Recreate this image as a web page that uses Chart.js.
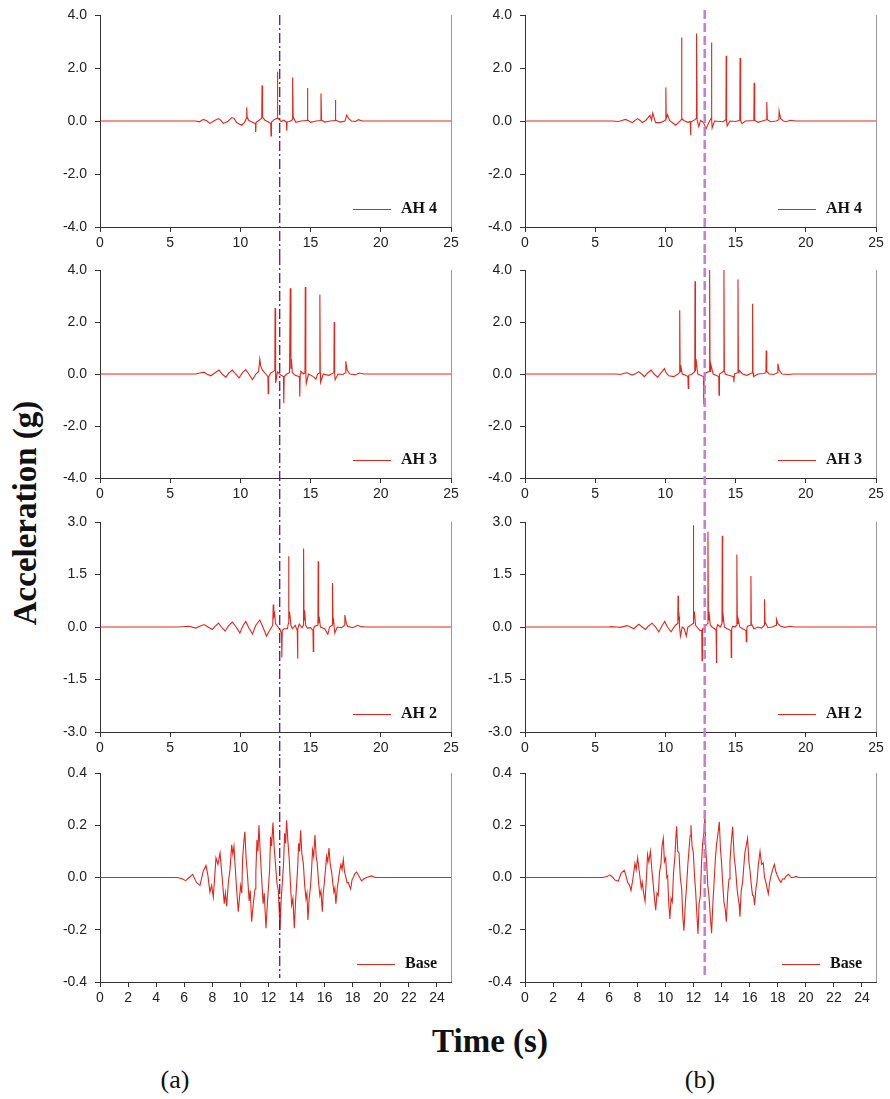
<!DOCTYPE html>
<html lang="en">
<head>
<meta charset="utf-8">
<title>Acceleration time histories</title>
<script src="https://cdn.jsdelivr.net/npm/chart.js@4.4.1/dist/chart.umd.min.js"></script>
<style>
  html, body { margin: 0; padding: 0; background: #fff; }
  .figure { position: relative; width: 890px; height: 1099px; overflow: hidden; }
  .figure canvas { position: absolute; }
  .ylabel {
    position: absolute; left: 25px; top: 513px;
    transform: translate(-50%, -50%) rotate(-90deg);
    font: bold 33px "Liberation Serif", "Times New Roman", serif;
    line-height: 1; white-space: nowrap; color: #111;
  }
  .xlabel {
    position: absolute; left: 490px; top: 1025px; transform: translateX(-50%);
    font: bold 33px "Liberation Serif", "Times New Roman", serif;
    line-height: 1; white-space: nowrap; color: #111;
  }
  .cap {
    position: absolute; top: 1067px; transform: translateX(-50%);
    font: 26px "Liberation Serif", "Times New Roman", serif;
    line-height: 1; color: #111;
  }
</style>
</head>
<body>
<div class="figure" id="figure">
  <div class="ylabel">Acceleration (g)</div>
  <div class="xlabel">Time (s)</div>
  <div class="cap" style="left:175px">(a)</div>
  <div class="cap" style="left:700px">(b)</div>
</div>

<script>
/* ============ Data: [time (s), acceleration (g)] ============ */
var ah4A = [[0,0],[3.5,0],[6.8,0],[7.1,-0.03],[7.36,0.06],[7.6,0.01],[7.83,-0.09],[8.1,0],[8.43,0.09],[8.6,0.03],
  [8.78,-0.09],[9.1,-0.02],[9.38,0.13],[9.55,0.1],[9.73,-0.06],[10.09,-0.16],[10.3,-0.05],[10.43,0.1],[10.45,0.52],[10.48,0.15],
  [10.6,0.02],[10.9,-0.06],[11.07,-0.1],[11.09,-0.41],[11.12,-0.05],[11.3,0.02],[11.52,0.1],[11.54,1.34],[11.58,0.15],[11.75,0.03],
  [12.0,-0.04],[12.16,-0.1],[12.18,-0.56],[12.21,-0.05],[12.4,0.05],[12.61,0.1],[12.63,1.86],[12.67,0.12],[12.9,-0.02],[13.1,0.03],
  [13.28,-0.05],[13.3,-0.37],[13.33,-0.03],[13.5,-0.02],[13.7,0.05],[13.72,1.64],[13.76,0.15],[13.95,-0.05],[14.3,0],[14.75,0.02],
  [14.77,1.25],[14.81,0.05],[15.0,-0.05],[15.4,0],[15.72,0.02],[15.74,1.04],[15.78,0.04],[16.0,-0.04],[16.4,0],[16.74,0.02],
  [16.76,0.79],[16.8,0.03],[17.1,-0.04],[17.45,0],[17.57,0.22],[17.7,0.1],[17.9,0],[18.2,-0.02],[18.4,0.05],[18.7,0],
  [19.5,0],[22,0],[25,0]];

var ah4B = [[0,0],[6.2,0],[6.69,-0.02],[6.95,0.03],[7.16,0.06],[7.4,0],[7.64,-0.06],[8.0,0.09],[8.2,0.02],[8.35,-0.06],
  [8.6,0.02],[8.9,0.21],[9.01,0.03],[9.1,0.3],[9.3,-0.06],[9.65,-0.06],[9.9,0],[10.01,0.05],[10.03,1.26],[10.06,0.1],
  [10.15,0.24],[10.3,0.02],[10.72,-0.16],[10.95,-0.05],[11.12,0.05],[11.15,3.15],[11.18,0.1],[11.3,0.02],[11.6,-0.05],[11.77,-0.02],
  [11.79,-0.54],[11.82,-0.05],[12.1,0.05],[12.2,0.1],[12.22,3.3],[12.26,0.05],[12.38,-0.22],[12.5,0.02],[12.7,-0.05],[12.9,-0.29],
  [13.1,-0.05],[13.26,0.1],[13.28,2.96],[13.31,0.05],[13.33,-0.26],[13.5,0],[14.1,-0.03],[14.31,0.05],[14.33,2.46],[14.36,0],
  [14.4,-0.19],[14.6,0],[15.0,-0.02],[15.3,0.03],[15.32,2.38],[15.36,0],[15.45,-0.1],[15.7,0],[16.3,0.02],[16.32,1.44],
  [16.36,0.02],[16.6,-0.05],[16.9,0],[17.2,0.05],[17.22,0.72],[17.26,0.05],[17.5,-0.03],[17.9,0],[18.08,0.05],[18.1,0.375],
  [18.2,0.1],[18.4,0],[18.6,-0.03],[18.9,0.03],[19.3,0],[25,0]];

var ah3A = [[0,0],[6.5,0],[6.82,0],[7.1,0.04],[7.41,0.07],[7.6,0],[7.89,-0.07],[8.2,0.05],[8.48,0.15],[8.7,0],
  [8.96,-0.12],[9.2,0.05],[9.43,0.15],[9.65,0],[9.91,-0.15],[10.15,0.05],[10.38,0.17],[10.6,0],[10.86,-0.22],[11.1,0],
  [11.3,0.1],[11.38,0.57],[11.45,0.3],[11.57,0.15],[11.8,0],[11.96,-0.1],[11.98,-0.76],[12.01,-0.1],[12.17,0.04],[12.35,0.1],
  [12.45,0.15],[12.47,2.54],[12.5,0.1],[12.52,-0.35],[12.64,0.08],[12.9,-0.05],[13.07,-0.1],[13.09,-1.12],[13.12,-0.1],[13.3,0],
  [13.5,0.05],[13.55,3.3],[13.6,0.2],[13.64,0.57],[13.7,0.05],[13.9,-0.05],[14.21,-0.1],[14.23,-0.87],[14.26,0],[14.31,0.1],
  [14.5,0],[14.6,0.05],[14.62,3.35],[14.66,0.05],[14.69,-0.37],[14.85,0],[15.2,-0.1],[15.38,-0.2],[15.5,0],[15.64,0.05],
  [15.66,3.05],[15.69,0.05],[15.71,-0.32],[15.9,0],[16.3,-0.05],[16.66,0.05],[16.68,2.0],[16.71,0.05],[16.75,-0.22],[16.95,0],
  [17.3,-0.02],[17.49,0.05],[17.51,0.49],[17.6,0.15],[17.8,0],[18.2,-0.03],[18.47,0.04],[18.8,0],[25,0]];

var ah3B = [[0,0],[6.5,0],[6.8,-0.02],[7.05,0.03],[7.27,0.05],[7.63,-0.04],[7.9,0.02],[8.1,0.09],[8.3,0],[8.5,-0.1],
  [8.75,0.05],[8.98,0.15],[9.2,0],[9.45,-0.12],[9.7,0.05],[9.93,0.21],[10.05,0.05],[10.24,-0.07],[10.59,-0.1],[10.9,0],
  [11.0,0.05],[11.02,2.45],[11.05,0.1],[11.09,0.34],[11.2,0],[11.45,-0.05],[11.6,-0.1],[11.63,-0.56],[11.66,-0.05],[11.9,0],
  [12.09,0.1],[12.11,3.57],[12.14,0.1],[12.18,0.58],[12.3,0],[12.5,-0.05],[12.71,-0.1],[12.73,-1.16],[12.76,-0.1],[12.9,0.05],
  [13.13,0.1],[13.15,4.0],[13.18,0.1],[13.22,0.4],[13.4,0],[13.6,-0.05],[13.8,-0.1],[13.82,-0.82],[13.85,0],[14.0,0.05],
  [14.15,0.1],[14.17,4.0],[14.2,0.1],[14.27,0],[14.5,-0.05],[14.86,-0.1],[14.88,-0.32],[14.92,0],[15.15,0.05],[15.17,3.63],
  [15.2,0.05],[15.24,0.15],[15.5,0],[15.8,-0.05],[16.19,0.05],[16.21,2.7],[16.24,0.05],[16.28,-0.1],[16.6,0],[17.0,0.02],
  [17.16,0.05],[17.18,0.9],[17.22,0.1],[17.4,0],[17.7,-0.02],[17.99,0.05],[18.01,0.4],[18.1,0.15],[18.3,0],[18.77,-0.02],
  [19.1,0],[25,0]];

var ah2A = [[0,0],[5.6,0],[6.35,0.02],[6.82,-0.03],[7.1,0.02],[7.41,0.07],[7.7,0],[8.0,-0.07],[8.2,0.02],[8.44,0.11],
  [8.65,0],[8.91,-0.12],[9.15,0.03],[9.43,0.14],[9.7,0],[9.96,-0.17],[10.2,0.05],[10.38,0.16],[10.6,-0.02],[10.86,-0.2],
  [11.1,0.05],[11.38,0.2],[11.6,0],[11.86,-0.26],[12.05,-0.12],[12.3,0.05],[12.34,0.64],[12.38,0.3],[12.44,0.39],[12.5,0.1],
  [12.64,0.02],[12.85,-0.1],[12.93,-0.2],[12.95,-0.87],[12.98,-0.1],[13.1,-0.05],[13.35,-0.05],[13.41,0.1],[13.43,2.02],[13.46,0.2],
  [13.5,0.44],[13.6,0.05],[13.71,-0.05],[13.9,0.05],[14.05,-0.1],[14.07,-0.91],[14.1,-0.05],[14.19,0.08],[14.4,-0.02],[14.48,0.05],
  [14.5,2.24],[14.53,0.2],[14.57,0.48],[14.65,0.05],[14.78,-0.03],[15.0,-0.02],[15.17,-0.1],[15.19,-0.7],[15.22,-0.05],[15.28,0.02],
  [15.52,0.05],[15.54,1.88],[15.57,0.1],[15.61,0.3],[15.7,0],[16.0,-0.05],[16.23,-0.21],[16.35,0],[16.54,0.05],[16.56,1.26],
  [16.6,0.1],[16.63,0.25],[16.7,-0.1],[16.73,-0.17],[16.9,0],[17.2,-0.02],[17.42,0.05],[17.44,0.34],[17.55,0.1],[17.63,0.02],
  [18.0,-0.02],[18.35,0.05],[18.6,0.01],[18.94,0],[25,0]];

var ah2B = [[0,0],[6.0,0],[6.09,0.01],[6.5,0],[6.8,-0.01],[7.27,0.04],[7.5,0],[7.75,-0.05],[8.1,0.08],[8.35,0],
  [8.58,-0.07],[8.8,0.03],[9.05,0.11],[9.3,0],[9.53,-0.14],[9.75,0.03],[9.95,0.16],[10.15,0],[10.4,-0.14],[10.71,0.05],
  [10.88,0.1],[10.9,0.89],[10.93,0.2],[10.97,0.3],[11.0,0.05],[11.07,-0.26],[11.2,0],[11.35,-0.05],[11.49,-0.26],[11.6,0],
  [11.8,0.05],[11.97,0.1],[11.99,2.91],[12.02,0.2],[12.06,0.44],[12.15,0.05],[12.25,0],[12.45,-0.1],[12.59,-0.1],[12.61,-0.96],
  [12.64,-0.05],[12.73,-0.05],[12.9,0.05],[13.01,0.1],[13.03,2.72],[13.06,0.2],[13.1,0.44],[13.2,0.05],[13.32,0],[13.5,-0.05],
  [13.61,-0.1],[13.63,-1.03],[13.66,-0.05],[13.72,0.07],[13.9,0],[14.03,0.1],[14.05,2.61],[14.08,0.15],[14.12,0.3],[14.2,0],
  [14.4,-0.05],[14.67,-0.1],[14.69,-0.87],[14.72,-0.05],[14.79,0.02],[14.95,0],[15.07,0.05],[15.09,2.07],[15.12,0.1],[15.17,0.25],
  [15.3,0],[15.5,-0.05],[15.74,-0.1],[15.76,-0.42],[15.8,-0.03],[15.85,0.02],[16.07,0.05],[16.09,1.46],[16.12,0.1],[16.16,0.1],
  [16.3,-0.05],[16.6,0],[16.85,-0.03],[17.04,0.05],[17.06,0.79],[17.1,0.1],[17.13,0.12],[17.3,-0.02],[17.6,0],[17.89,0.05],
  [17.91,0.22],[18.0,0.1],[18.18,0.03],[18.5,-0.01],[18.89,0.02],[19.2,0],[25,0]];

var baseA = [[0,0],[5.5,0],[5.85,-0.005],[6.1,-0.012],[6.35,0],[6.6,0.012],[6.88,-0.02],[7.12,-0.03],[7.36,0.025],[7.55,0.046],
  [7.68,0.01],[7.83,-0.056],[7.95,-0.03],[8.07,-0.075],[8.18,0.01],[8.26,0.075],[8.4,0.05],[8.55,0.094],[8.65,0.03],[8.73,-0.019],
  [8.85,-0.1],[8.93,-0.06],[9.02,-0.11],[9.14,-0.02],[9.26,0.031],[9.38,0.125],[9.46,0.09],[9.54,0.12],[9.63,0.04],[9.73,-0.044],
  [9.85,-0.131],[9.93,-0.08],[10.02,-0.031],[10.1,-0.06],[10.16,0.075],[10.25,0.14],[10.32,0.175],[10.4,0.08],[10.51,0.006],[10.62,-0.09],
  [10.7,-0.05],[10.8,-0.169],[10.92,-0.1],[11.04,-0.044],[11.1,0.02],[11.18,0.144],[11.25,0.1],[11.32,0.2],[11.42,0.09],[11.51,0],
  [11.62,-0.1],[11.7,-0.06],[11.82,-0.194],[11.9,-0.12],[11.99,-0.044],[12.08,0.03],[12.15,0.156],[12.22,0.12],[12.32,0.21],[12.4,0.12],
  [12.49,0.056],[12.6,-0.02],[12.7,-0.05],[12.76,-0.12],[12.82,-0.2],[12.9,-0.09],[13.01,0],[13.08,0.06],[13.15,0.169],[13.22,0.13],
  [13.29,0.219],[13.38,0.14],[13.48,0.069],[13.56,-0.02],[13.65,-0.106],[13.74,-0.08],[13.84,-0.194],[13.92,-0.1],[14.0,-0.031],[14.08,0.04],
  [14.15,0.131],[14.22,0.1],[14.29,0.181],[14.38,0.09],[14.48,0.056],[14.58,-0.03],[14.67,-0.081],[14.74,-0.06],[14.81,-0.163],[14.9,-0.08],
  [15.0,-0.031],[15.07,0.03],[15.14,0.106],[15.22,0.08],[15.31,0.163],[15.4,0.08],[15.47,0.056],[15.57,-0.02],[15.66,-0.069],[15.74,-0.05],
  [15.83,-0.131],[15.9,-0.06],[15.98,-0.019],[16.06,0.03],[16.14,0.081],[16.22,0.06],[16.31,0.113],[16.4,0.05],[16.5,0.019],[16.58,-0.02],
  [16.66,-0.056],[16.73,-0.04],[16.8,-0.1],[16.9,-0.04],[16.99,-0.006],[17.08,0.03],[17.16,0.05],[17.24,0.03],[17.33,0.069],[17.42,0.02],
  [17.49,0.006],[17.6,-0.02],[17.68,-0.019],[17.75,-0.03],[17.85,-0.044],[17.95,-0.01],[18.04,0],[18.15,0.015],[18.28,0.021],[18.45,0.005],
  [18.63,-0.013],[18.8,-0.005],[18.99,0],[19.2,0.004],[19.35,0.006],[19.6,0],[25,0]];

var baseB = [[0,0],[5.5,0],[5.85,0.004],[6.05,0.01],[6.25,0],[6.41,-0.01],[6.65,-0.014],[6.84,0.016],[7.07,0.028],[7.2,0.005],
  [7.31,-0.019],[7.45,-0.03],[7.55,-0.05],[7.7,0],[7.83,0.054],[7.92,0.03],[8.02,0.075],[8.1,0.04],[8.19,0],[8.28,-0.04],
  [8.35,-0.019],[8.45,-0.06],[8.55,-0.091],[8.65,0],[8.73,0.088],[8.82,0.06],[8.93,0.1],[9.05,0.02],[9.14,-0.031],[9.22,-0.08],
  [9.31,-0.125],[9.4,-0.06],[9.49,-0.069],[9.58,0.02],[9.68,0.05],[9.76,0.12],[9.85,0.15],[9.93,0.06],[10.02,0.075],[10.1,0],
  [10.16,0.006],[10.24,-0.1],[10.32,-0.159],[10.4,-0.08],[10.49,-0.094],[10.58,0.02],[10.68,0.081],[10.74,0.15],[10.8,0.196],[10.88,0.1],
  [10.97,0.094],[11.06,0],[11.16,-0.044],[11.24,-0.15],[11.32,-0.204],[11.42,-0.1],[11.51,-0.031],[11.6,0.05],[11.68,0.106],[11.76,0.16],
  [11.82,0.2],[11.9,0.12],[11.99,0.094],[12.08,0],[12.15,-0.05],[12.24,-0.14],[12.32,-0.216],[12.4,-0.1],[12.49,-0.069],[12.57,0.05],
  [12.65,0.131],[12.74,0.17],[12.82,0.234],[12.88,0.1],[12.94,0.056],[13.02,-0.03],[13.1,-0.069],[13.2,-0.15],[13.29,-0.213],[13.38,-0.1],
  [13.48,-0.006],[13.57,0.08],[13.65,0.131],[13.75,0.17],[13.84,0.213],[13.92,0.11],[14.0,0.056],[14.08,-0.02],[14.17,-0.094],[14.26,-0.12],
  [14.34,-0.169],[14.44,-0.06],[14.53,-0.006],[14.6,0.06],[14.67,0.119],[14.73,0.16],[14.79,0.194],[14.9,0.08],[15.0,0.031],[15.1,-0.04],
  [15.19,-0.081],[15.25,-0.1],[15.31,-0.15],[15.4,-0.05],[15.5,-0.019],[15.58,0.04],[15.66,0.094],[15.75,0.12],[15.85,0.15],[15.95,0.06],
  [16.04,0.019],[16.12,-0.03],[16.21,-0.069],[16.28,-0.07],[16.35,-0.106],[16.45,-0.04],[16.52,-0.019],[16.62,0.05],[16.74,0.1],[16.85,0.05],
  [16.97,0.056],[17.06,0],[17.16,-0.019],[17.24,-0.04],[17.33,-0.0625],[17.42,-0.02],[17.52,0.006],[17.64,0.03],[17.76,0.05],[17.88,0.02],
  [17.99,0.006],[18.12,-0.01],[18.23,-0.019],[18.35,-0.005],[18.47,-0.006],[18.6,0.005],[18.76,0.0125],[18.95,0],[19.11,0],[19.3,0.004],
  [19.5,0],[25,0]];

/* ============ Tick labels ============ */
var ahTicks = [-4, -2, 0, 2, 4];
var ah2Ticks = [-3, -1.5, 0, 1.5, 3];
var baseTicks = [-0.4, -0.2, 0, 0.2, 0.4];
var timeTicks = [0, 5, 10, 15, 20, 25];
var baseTimeTicks = [0, 2, 4, 6, 8, 10, 12, 14, 16, 18, 20, 22, 24];
var timeMax = 25;
var markTime = 12.8;   /* the dashed vertical marker */

/* ============ Layout ============ */
var COLS = [
  { left: 30, width: 440, axisW: 70, padR: 19, markTop: 15, markBottom: 978,
    mark: { color: '#5b1a70', width: 1.3, dash: [10, 3, 2, 3] } },
  { left: 470, width: 420, axisW: 55, padR: 14, markTop: 10, markBottom: 977,
    mark: { color: '#c47fcf', width: 2.5, dash: [9, 4] } }
];
var ROWS = [
  { top: 0,   height: 255, plotTop: 13,  plotBottom: 227 },
  { top: 255, height: 252, plotTop: 263, plotBottom: 478 },
  { top: 507, height: 251, plotTop: 517, plotBottom: 732 },
  { top: 758, height: 262, plotTop: 770, plotBottom: 982 }
];
var X_AXIS_H = 22;
var LINE_COLOR = '#e3261b';
var TICK_FONT = { family: "'Liberation Sans', Arial, sans-serif", size: 14, lineHeight: 1 };

var panels = [
  { data: ah4A, label: 'AH 4', yTicks: ahTicks, xTicks: timeTicks, row: 0, col: 0 },
  { data: ah4B, label: 'AH 4', yTicks: ahTicks, xTicks: timeTicks, row: 0, col: 1 },
  { data: ah3A, label: 'AH 3', yTicks: ahTicks, xTicks: timeTicks, row: 1, col: 0 },
  { data: ah3B, label: 'AH 3', yTicks: ahTicks, xTicks: timeTicks, row: 1, col: 1 },
  { data: ah2A, label: 'AH 2', yTicks: ah2Ticks, xTicks: timeTicks, row: 2, col: 0 },
  { data: ah2B, label: 'AH 2', yTicks: ah2Ticks, xTicks: timeTicks, row: 2, col: 1 },
  { data: baseA, label: 'Base', yTicks: baseTicks, xTicks: baseTimeTicks, row: 3, col: 0 },
  { data: baseB, label: 'Base', yTicks: baseTicks, xTicks: baseTimeTicks, row: 3, col: 1 }
];

/* ============ Plugin: right frame, inner legend, dashed marker ============ */
var decorPlugin = {
  id: 'decor',
  afterDraw: function (chart, args, opts) {
    var ctx = chart.ctx, a = chart.chartArea;
    ctx.save();

    // right frame line (grey)
    ctx.strokeStyle = '#9a9a9a';
    ctx.lineWidth = 1;
    ctx.beginPath();
    ctx.moveTo(Math.round(a.right) + 0.5, a.top);
    ctx.lineTo(Math.round(a.right) + 0.5, a.bottom);
    ctx.stroke();

    // legend inside the plot, bottom right
    var ds = chart.data.datasets[0];
    ctx.font = 'bold 16px "Liberation Serif", "Times New Roman", serif';
    ctx.fillStyle = '#111';
    ctx.textAlign = 'right';
    ctx.textBaseline = 'middle';
    var ly = a.bottom - 18;
    var tx = a.right - 14;
    ctx.fillText(ds.label, tx, ly);
    var tw = ctx.measureText(ds.label).width;
    ctx.strokeStyle = ds.borderColor;
    ctx.lineWidth = 1;
    ctx.beginPath();
    ctx.moveTo(tx - tw - 10 - 38, Math.round(ly) + 0.5);
    ctx.lineTo(tx - tw - 10, Math.round(ly) + 0.5);
    ctx.stroke();

    // dashed vertical marker, runs through the whole column
    var x = chart.scales.x.getPixelForValue(opts.markTime);
    ctx.strokeStyle = opts.color;
    ctx.lineWidth = opts.width;
    ctx.setLineDash(opts.dash);
    ctx.beginPath();
    ctx.moveTo(x, opts.yFrom);
    ctx.lineTo(x, opts.yTo);
    ctx.stroke();
    ctx.restore();
  }
};

var fig = document.getElementById('figure');

panels.forEach(function (p) {
  var col = COLS[p.col], row = ROWS[p.row];
  var cv = document.createElement('canvas');
  cv.width = col.width;
  cv.height = row.height;
  cv.style.left = col.left + 'px';
  cv.style.top = row.top + 'px';
  fig.appendChild(cv);

  var yFrom = p.row === 0 ? col.markTop : 0;
  var yTo = p.row === ROWS.length - 1 ? col.markBottom - row.top : row.height;

  new Chart(cv, {
    type: 'line',
    data: {
      datasets: [{
        label: p.label,
        data: p.data.map(function (d) { return { x: d[0], y: d[1] }; }),
        borderColor: LINE_COLOR,
        borderWidth: 1.1,
        pointRadius: 0,
        tension: 0,
        fill: false
      }]
    },
    options: {
      responsive: false,
      animation: false,
      events: [],
      layout: {
        padding: {
          left: 0,
          right: col.padR,
          top: row.plotTop - row.top,
          bottom: row.top + row.height - row.plotBottom - X_AXIS_H
        }
      },
      plugins: {
        legend: { display: false },
        tooltip: { enabled: false },
        decor: {
          markTime: markTime, color: col.mark.color, width: col.mark.width, dash: col.mark.dash,
          yFrom: yFrom, yTo: yTo
        }
      },
      scales: {
        x: {
          type: 'linear',
          min: p.xTicks[0],
          max: timeMax,
          afterBuildTicks: function (s) { s.ticks = p.xTicks.map(function (v) { return { value: v }; }); },
          afterFit: function (s) { s.height = X_AXIS_H; },
          grid: { drawOnChartArea: false, tickLength: 5, color: '#333' },
          border: { color: '#333', width: 1 },
          ticks: {
            color: '#222', font: TICK_FONT, padding: 4, maxRotation: 0, autoSkip: false,
            callback: function (v) { return String(v); }
          }
        },
        y: {
          min: p.yTicks[0],
          max: p.yTicks[p.yTicks.length - 1],
          afterBuildTicks: function (s) { s.ticks = p.yTicks.map(function (v) { return { value: v }; }); },
          afterFit: function (s) { s.width = col.axisW; },
          grid: { drawOnChartArea: false, tickLength: 5, color: '#333' },
          border: { color: '#333', width: 1 },
          ticks: {
            color: '#222', font: TICK_FONT, padding: 8, autoSkip: false,
            callback: function (v) { return Number(v).toFixed(1); }
          }
        }
      }
    },
    plugins: [decorPlugin]
  });
});
</script>
</body>
</html>
